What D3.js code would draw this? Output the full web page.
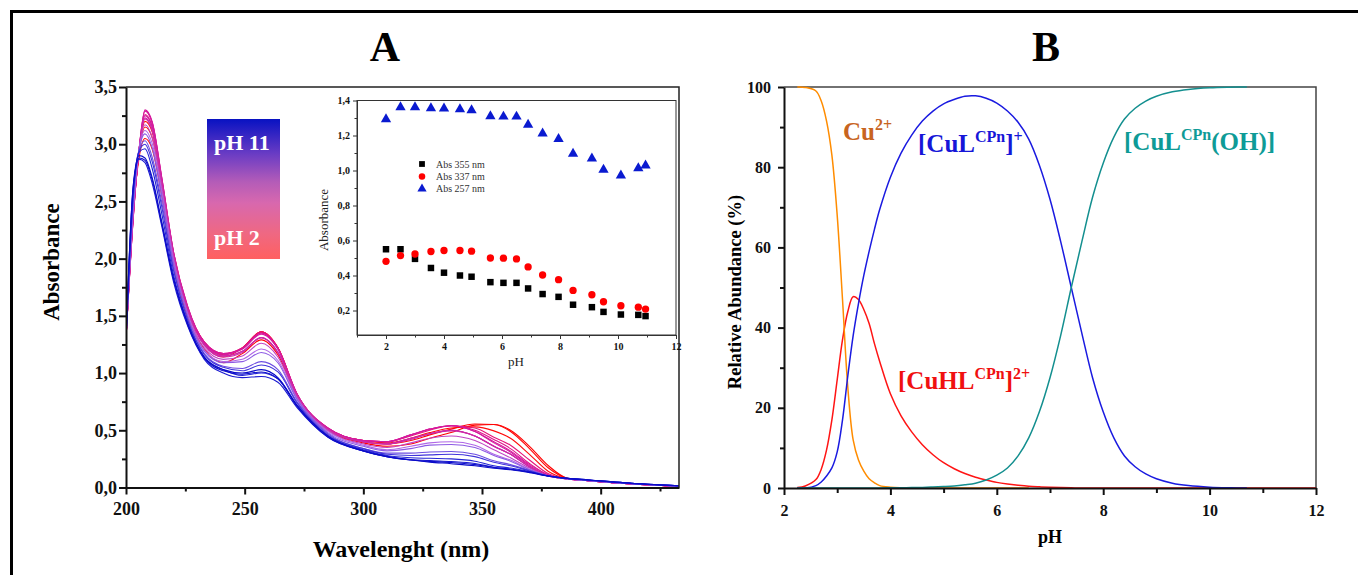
<!DOCTYPE html>
<html>
<head>
<meta charset="utf-8">
<script src="https://cdn.jsdelivr.net/npm/d3@7/dist/d3.min.js"></script>
<style>
  body { margin: 0; background: #fff; }
  text { font-family: "Liberation Serif", "DejaVu Serif", serif; }
</style>
</head>
<body>
<div id="chart"></div>
<script>
// ---- panel A : UV-vis titration spectra ----
var wavelengths = [200, 203, 205.5, 208, 211, 215, 220, 226, 233, 241, 249, 257, 264, 272, 285, 300, 310, 320, 328, 337, 347, 355, 362, 370, 378, 386, 395, 410, 433];
var titrationPH = [2.0, 2.5, 3.0, 3.55, 4.0, 4.55, 4.95, 5.6, 6.05, 6.5, 6.9, 7.4, 7.95, 8.45, 9.1, 9.5, 10.1, 10.7, 10.95];
// one row per pH value, one column per wavelength
var spectra = [
  [1.30, 2.40, 2.88, 3.05, 2.96, 2.56, 1.96, 1.49, 1.21, 1.09, 1.17, 1.29, 1.16, 0.79, 0.50, 0.39, 0.36, 0.38, 0.43, 0.48, 0.545, 0.55, 0.50, 0.36, 0.19, 0.08, 0.06, 0.035, 0.01],
  [1.30, 2.38, 2.92, 3.15, 3.06, 2.63, 2.01, 1.54, 1.25, 1.14, 1.22, 1.36, 1.22, 0.81, 0.51, 0.40, 0.38, 0.41, 0.46, 0.51, 0.555, 0.55, 0.49, 0.34, 0.17, 0.08, 0.06, 0.035, 0.01],
  [1.30, 2.36, 2.93, 3.20, 3.11, 2.66, 2.03, 1.56, 1.27, 1.16, 1.22, 1.36, 1.22, 0.81, 0.51, 0.41, 0.39, 0.43, 0.48, 0.52, 0.53, 0.495, 0.43, 0.29, 0.14, 0.078, 0.06, 0.035, 0.01],
  [1.30, 2.35, 2.94, 3.26, 3.16, 2.69, 2.05, 1.57, 1.27, 1.17, 1.22, 1.36, 1.22, 0.82, 0.52, 0.41, 0.40, 0.45, 0.50, 0.54, 0.52, 0.44, 0.37, 0.24, 0.12, 0.076, 0.06, 0.035, 0.01],
  [1.30, 2.34, 2.95, 3.29, 3.19, 2.71, 2.06, 1.58, 1.27, 1.17, 1.22, 1.35, 1.22, 0.82, 0.52, 0.41, 0.40, 0.46, 0.51, 0.54, 0.50, 0.42, 0.34, 0.21, 0.11, 0.075, 0.06, 0.035, 0.01],
  [1.30, 2.34, 2.95, 3.30, 3.20, 2.72, 2.06, 1.58, 1.27, 1.17, 1.21, 1.35, 1.21, 0.82, 0.52, 0.41, 0.40, 0.46, 0.51, 0.54, 0.49, 0.40, 0.32, 0.20, 0.11, 0.075, 0.06, 0.035, 0.01],
  [1.30, 2.35, 2.95, 3.29, 3.19, 2.71, 2.06, 1.57, 1.26, 1.16, 1.21, 1.34, 1.21, 0.82, 0.52, 0.41, 0.40, 0.46, 0.51, 0.54, 0.49, 0.39, 0.31, 0.19, 0.105, 0.075, 0.06, 0.035, 0.01],
  [1.30, 2.37, 2.95, 3.25, 3.15, 2.69, 2.04, 1.56, 1.25, 1.15, 1.19, 1.31, 1.18, 0.81, 0.51, 0.40, 0.38, 0.43, 0.47, 0.50, 0.45, 0.36, 0.29, 0.18, 0.10, 0.075, 0.06, 0.035, 0.01],
  [1.30, 2.37, 2.95, 3.23, 3.13, 2.68, 2.04, 1.56, 1.25, 1.15, 1.19, 1.31, 1.18, 0.81, 0.51, 0.40, 0.38, 0.43, 0.47, 0.50, 0.45, 0.36, 0.29, 0.18, 0.10, 0.075, 0.06, 0.035, 0.01],
  [1.30, 2.38, 2.95, 3.22, 3.12, 2.67, 2.03, 1.55, 1.24, 1.14, 1.18, 1.31, 1.18, 0.81, 0.51, 0.40, 0.38, 0.42, 0.47, 0.495, 0.45, 0.36, 0.29, 0.18, 0.10, 0.075, 0.06, 0.035, 0.01],
  [1.30, 2.40, 2.95, 3.17, 3.06, 2.63, 2.01, 1.53, 1.22, 1.12, 1.15, 1.26, 1.14, 0.79, 0.50, 0.38, 0.35, 0.39, 0.43, 0.45, 0.41, 0.33, 0.26, 0.17, 0.10, 0.075, 0.06, 0.035, 0.01],
  [1.30, 2.43, 2.95, 3.12, 3.01, 2.59, 1.98, 1.51, 1.20, 1.10, 1.12, 1.21, 1.11, 0.78, 0.49, 0.37, 0.33, 0.36, 0.39, 0.40, 0.37, 0.29, 0.24, 0.16, 0.10, 0.075, 0.06, 0.037, 0.012],
  [1.30, 2.45, 2.95, 3.09, 2.97, 2.56, 1.96, 1.50, 1.19, 1.09, 1.10, 1.18, 1.09, 0.77, 0.48, 0.36, 0.32, 0.34, 0.37, 0.376, 0.35, 0.28, 0.23, 0.155, 0.10, 0.076, 0.06, 0.037, 0.012],
  [1.30, 2.50, 2.95, 3.03, 2.89, 2.50, 1.92, 1.47, 1.17, 1.06, 1.04, 1.10, 1.03, 0.75, 0.47, 0.34, 0.30, 0.30, 0.31, 0.315, 0.29, 0.233, 0.20, 0.15, 0.10, 0.077, 0.062, 0.038, 0.013],
  [1.30, 2.53, 2.94, 3.00, 2.85, 2.46, 1.90, 1.46, 1.16, 1.05, 1.02, 1.07, 1.01, 0.74, 0.46, 0.34, 0.29, 0.28, 0.285, 0.29, 0.27, 0.22, 0.19, 0.145, 0.10, 0.078, 0.063, 0.038, 0.013],
  [1.30, 2.56, 2.93, 2.96, 2.79, 2.40, 1.86, 1.44, 1.14, 1.03, 0.98, 1.00, 0.95, 0.72, 0.45, 0.33, 0.28, 0.26, 0.255, 0.25, 0.23, 0.19, 0.17, 0.14, 0.10, 0.08, 0.065, 0.04, 0.014],
  [1.30, 2.60, 2.87, 2.84, 2.66, 2.29, 1.80, 1.41, 1.12, 1.00, 0.96, 0.97, 0.92, 0.70, 0.44, 0.32, 0.27, 0.245, 0.235, 0.227, 0.21, 0.177, 0.16, 0.135, 0.10, 0.08, 0.066, 0.041, 0.015],
  [1.30, 2.62, 2.88, 2.86, 2.69, 2.31, 1.82, 1.42, 1.13, 1.02, 0.99, 1.01, 0.95, 0.71, 0.44, 0.32, 0.27, 0.24, 0.228, 0.219, 0.20, 0.175, 0.16, 0.135, 0.10, 0.08, 0.066, 0.041, 0.015],
  [1.30, 2.63, 2.90, 2.88, 2.71, 2.33, 1.83, 1.43, 1.14, 1.03, 1.00, 1.03, 0.96, 0.72, 0.45, 0.32, 0.27, 0.24, 0.222, 0.208, 0.19, 0.168, 0.155, 0.13, 0.10, 0.08, 0.066, 0.041, 0.015]
];
var absTicks = [0, 0.5, 1, 1.5, 2, 2.5, 3, 3.5];
var wlTicks = [200, 250, 300, 350, 400];

// ---- inset : absorbance vs pH ----
var abs355 = [0.55, 0.55, 0.495, 0.443, 0.416, 0.40, 0.393, 0.362, 0.358, 0.358, 0.326, 0.294, 0.278, 0.233, 0.219, 0.192, 0.177, 0.175, 0.168];
var abs337 = [0.481, 0.514, 0.523, 0.537, 0.543, 0.543, 0.539, 0.50, 0.499, 0.495, 0.449, 0.403, 0.376, 0.315, 0.29, 0.25, 0.227, 0.219, 0.208];
var abs257 = [1.293, 1.362, 1.362, 1.356, 1.354, 1.35, 1.344, 1.31, 1.308, 1.308, 1.262, 1.212, 1.18, 1.096, 1.069, 1.004, 0.971, 1.013, 1.029];
var insetLegend = ["Abs 355 nm", "Abs 337 nm", "Abs 257 nm"];

// ---- panel B : species distribution ----
var speciesPH = [2.25, 2.4, 2.6, 2.7, 2.8, 2.9, 3.0, 3.1, 3.2, 3.3, 3.4, 3.5, 3.6, 3.7, 3.8, 4.0, 4.2, 4.4, 4.6, 4.8, 5.0, 5.2, 5.4, 5.6, 5.8, 6.0, 6.2, 6.4, 6.6, 6.8, 7.0, 7.2, 7.4, 7.6, 7.8, 8.0, 8.2, 8.4, 8.6, 8.8, 9.0, 9.3, 9.6, 10.0, 10.4, 10.7, 11.5, 12];
var cuFree = [100, 99.9, 99, 96.5, 91.5, 83, 68, 47, 25, 12, 7, 4.2, 2.3, 1.3, 0.6, 0.2, 0.05, 0, 0, 0, 0, 0, 0, 0, 0, 0, 0, 0, 0, null, null, null, null, null, null, null, null, null, null, null, null, null, null, null, null, null, null, null];
var cuHL = [0.1, 0.5, 2.1, 4.7, 9.5, 17, 27, 37, 44, 47.7, 47, 44.5, 41, 36, 31.5, 23.5, 18, 14, 10.8, 8.3, 6.3, 4.8, 3.6, 2.7, 2.0, 1.4, 1.0, 0.7, 0.45, 0.3, 0.18, 0.1, 0.05, 0, 0, 0, 0, 0, 0, 0, 0, 0, 0, 0, 0, 0, 0, 0];
var cuL = [0, 0, 0.6, 1.5, 3, 5, 9, 17, 28, 38, 46, 53, 59, 64.5, 69.5, 77.5, 83.5, 88, 91.5, 94, 95.8, 96.9, 97.7, 97.8, 97.2, 96, 94, 91.2, 87, 80.5, 72, 61.5, 50, 38.5, 27.5, 19, 12.5, 8, 5.3, 3.5, 2.3, 1.2, 0.6, 0.2, 0.05, 0, null, null];
var cuLOH = [0, 0, 0, 0, 0, 0, 0, 0, 0, 0, 0, 0, 0, 0, 0, 0.05, 0.08, 0.1, 0.15, 0.25, 0.35, 0.5, 0.8, 1.2, 2, 3.2, 5, 8, 12.5, 19, 27.5, 38, 50, 61.5, 72.5, 81, 87.5, 92, 94.7, 96.5, 97.7, 98.8, 99.4, 99.8, 99.95, 100, null, null];
var abundanceTicks = [0, 20, 40, 60, 80, 100];
var pHTicks = [2, 4, 6, 8, 10, 12];

var comma = function(d){ return d3.format(".1f")(d).replace(".", ","); };

var svg = d3.select('#chart')
    .append('svg')
    .attr('width', 1358)
    .attr('height', 575);

// outer frame
svg.append('rect')
    .attr('x', 11.5).attr('y', 11.5)
    .attr('width', 1400).attr('height', 700)
    .attr('fill', 'none').attr('stroke', '#000').attr('stroke-width', 3);

// draws a minor + major tick axis, labels in bold serif
function makeAxis(g, axisFn, scale, major, minor, fmt, len, minorLen, pad, fs) {
    g.append('g').call(axisFn(scale).tickValues(minor).tickSize(minorLen).tickSizeOuter(0).tickFormat(''))
        .call(function(s){ s.select('.domain').remove(); });
    var a = g.append('g').call(axisFn(scale).tickValues(major).tickSize(len).tickSizeOuter(0).tickPadding(pad).tickFormat(fmt));
    a.selectAll('text').attr('font-size', fs).attr('font-weight', 'bold')
        .attr('font-family', '"Liberation Serif", serif').attr('fill', '#111');
    return a;
}

// =============== PANEL A ===============
var xA = d3.scaleLinear().domain([200, 433]).range([126, 679]);
var yA = d3.scaleLinear().domain([0, 3.5]).range([487.5, 87]);

svg.append('defs').append('clipPath').attr('id', 'clipA')
    .append('rect').attr('x', 126).attr('y', 87).attr('width', 553).attr('height', 401);

var specColor = d3.scaleLinear()
    .domain([2, 3, 3.55, 4.5, 6.5, 7.4, 8.5, 9.5, 11])
    .range(['#ff0000', '#ff0a0a', '#e6147a', '#d6169c', '#cc2aa8', '#b067e6', '#6a4ce2', '#2424d6', '#0a0ac8']);

var specLine = d3.line()
    .x(function(d, i){ return xA(wavelengths[i]); })
    .y(function(d){ return yA(d); })
    .curve(d3.curveMonotoneX);

svg.append('g').attr('clip-path', 'url(#clipA)')
    .selectAll('path')
    .data(spectra)
    .enter()
    .append('path')
    .attr('d', specLine)
    .attr('fill', 'none')
    .attr('stroke', function(d, i){ return specColor(titrationPH[i]); })
    .attr('stroke-width', 1.1);

// frame top / right
svg.append('path')
    .attr('d', 'M' + xA.range()[0] + ',' + yA.range()[1] + 'H' + xA.range()[1] + 'V' + yA.range()[0])
    .attr('fill', 'none').attr('stroke', '#222').attr('stroke-width', 1.5);

var axA_y = svg.append('g').attr('transform', 'translate(126,0)').attr('color', '#111');
makeAxis(axA_y, d3.axisLeft, yA, absTicks, d3.range(0.25, 3.5, 0.5), comma, 7, 4, 2, 18);
axA_y.selectAll('.domain, line').attr('stroke-width', 2);

var axA_x = svg.append('g').attr('transform', 'translate(0,487.5)').attr('color', '#111');
makeAxis(axA_x, d3.axisBottom, xA, wlTicks, [225, 275, 325, 375, 425], d3.format('d'), 7, 4, 8, 18);
axA_x.selectAll('.domain, line').attr('stroke-width', 2);

svg.append('text').attr('x', 401).attr('y', 557).attr('text-anchor', 'middle')
    .attr('font-size', 24).attr('font-weight', 'bold').text('Wavelenght (nm)');
svg.append('text').attr('transform', 'translate(59,262) rotate(-90)').attr('text-anchor', 'middle')
    .attr('font-size', 23).attr('font-weight', 'bold').text('Absorbance');
svg.append('text').attr('x', 385).attr('y', 61).attr('text-anchor', 'middle')
    .attr('font-size', 42).attr('font-weight', 'bold').text('A');

// pH colour bar
var grad = svg.select('defs').append('linearGradient').attr('id', 'phGrad')
    .attr('x1', 0).attr('y1', 0).attr('x2', 0).attr('y2', 1);
[[0, '#0812c2'], [0.25, '#6a3cc4'], [0.45, '#b45cb8'], [0.6, '#d868ae'], [0.82, '#ef6882'], [1, '#ff6060']]
    .forEach(function(s){ grad.append('stop').attr('offset', s[0]).attr('stop-color', s[1]); });
svg.append('rect').attr('x', 207).attr('y', 119).attr('width', 73).attr('height', 140).attr('fill', 'url(#phGrad)');
svg.append('text').attr('x', 214).attr('y', 150).attr('fill', '#fff').attr('font-size', 22).attr('font-weight', 'bold').text('pH 11');
svg.append('text').attr('x', 214).attr('y', 245).attr('fill', '#fff').attr('font-size', 22).attr('font-weight', 'bold').text('pH 2');

// =============== INSET ===============
var xI = d3.scaleLinear().domain([1, 12]).range([357, 676]);
var yI = d3.scaleLinear().domain([0.06, 1.4]).range([335, 100.5]);

svg.append('rect').attr('x', 357).attr('y', 100.5).attr('width', 319).attr('height', 234.5)
    .attr('fill', '#fff').attr('stroke', '#333').attr('stroke-width', 1);

var axI_y = svg.append('g').attr('transform', 'translate(357,0)').attr('color', '#333');
makeAxis(axI_y, d3.axisLeft, yI, [0.2, 0.4, 0.6, 0.8, 1.0, 1.2, 1.4], [0.3, 0.5, 0.7, 0.9, 1.1, 1.3], comma, 4, 2.5, 3, 10);
var axI_x = svg.append('g').attr('transform', 'translate(0,335)').attr('color', '#333');
makeAxis(axI_x, d3.axisBottom, xI, [2, 4, 6, 8, 10, 12], [1, 3, 5, 7, 9, 11], d3.format('d'), 4, 2.5, 4, 10);

svg.append('text').attr('transform', 'translate(328,220) rotate(-90)').attr('text-anchor', 'middle')
    .attr('font-size', 13).attr('fill', '#222').text('Absorbance');
svg.append('text').attr('x', 516).attr('y', 366).attr('text-anchor', 'middle')
    .attr('font-size', 13).attr('fill', '#222').text('pH');

var insetSeries = [
    {vals: abs355, sym: d3.symbolSquare, size: 42, color: '#000'},
    {vals: abs337, sym: d3.symbolCircle, size: 42, color: '#ff0000'},
    {vals: abs257, sym: d3.symbolTriangle, size: 46, color: '#0a1ad0'}
];
insetSeries.forEach(function(s, k){
    svg.append('g').selectAll('path')
        .data(s.vals)
        .enter()
        .append('path')
        .attr('transform', function(d, i){ return 'translate(' + xI(titrationPH[i]) + ',' + yI(d) + ')'; })
        .attr('d', d3.symbol().type(s.sym).size(s.size))
        .attr('fill', s.color);
    svg.append('path')
        .attr('transform', 'translate(422,' + (164 + k * 12.4) + ')')
        .attr('d', d3.symbol().type(s.sym).size(s.size * 0.8))
        .attr('fill', s.color);
    svg.append('text').attr('x', 436).attr('y', 167.5 + k * 12.4)
        .attr('font-size', 10).attr('fill', '#333').text(insetLegend[k]);
});

// =============== PANEL B ===============
var xB = d3.scaleLinear().domain([2, 12]).range([784, 1316]);
var yB = d3.scaleLinear().domain([0, 100]).range([488, 87]);

svg.append('path')
    .attr('d', 'M' + xB.range()[0] + ',' + yB.range()[1] + 'H' + xB.range()[1] + 'V' + yB.range()[0])
    .attr('fill', 'none').attr('stroke', '#444').attr('stroke-width', 1.5);

var speciesLine = d3.line()
    .defined(function(d){ return d[1] !== null; })
    .x(function(d){ return xB(d[0]); })
    .y(function(d){ return yB(Math.max(0, d[1])); })
    .curve(d3.curveCatmullRom.alpha(0.5));

var species = [
    {vals: cuHL, color: '#ff1414'},
    {vals: cuFree, color: '#ff8c00'},
    {vals: cuL, color: '#1a1ae0'},
    {vals: cuLOH, color: '#138f8f'}
];
species.forEach(function(s){
    svg.append('path')
        .datum(speciesPH.map(function(p, i){ return [p, s.vals[i]]; }))
        .attr('d', speciesLine)
        .attr('fill', 'none')
        .attr('stroke', s.color)
        .attr('stroke-width', 1.5);
});

var axB_y = svg.append('g').attr('transform', 'translate(784,0)').attr('color', '#111');
makeAxis(axB_y, d3.axisLeft, yB, abundanceTicks, [10, 30, 50, 70, 90], d3.format('d'), 6, 4, 7, 16);
axB_y.selectAll('.domain, line').attr('stroke-width', 2);
var axB_x = svg.append('g').attr('transform', 'translate(0,488)').attr('color', '#111');
makeAxis(axB_x, d3.axisBottom, xB, pHTicks, [3, 5, 7, 9, 11], d3.format('d'), 7, 5, 10, 16);
axB_x.selectAll('.domain, line').attr('stroke-width', 2);

svg.append('text').attr('x', 1050).attr('y', 543).attr('text-anchor', 'middle')
    .attr('font-size', 18).attr('font-weight', 'bold').text('pH');
svg.append('text').attr('transform', 'translate(741,292) rotate(-90)').attr('text-anchor', 'middle')
    .attr('font-size', 18.5).attr('font-weight', 'bold').text('Relative Abundance (%)');
svg.append('text').attr('x', 1046).attr('y', 61).attr('text-anchor', 'middle')
    .attr('font-size', 42).attr('font-weight', 'bold').text('B');

// species labels with superscripts
function speciesLabel(x, y, color, parts) {
    var t = svg.append('text').attr('x', x).attr('y', y).attr('fill', color)
        .attr('font-size', 25).attr('font-weight', 'bold');
    var up = false;
    parts.forEach(function(p){
        var sup = p[1];
        var ts = t.append('tspan').text(p[0]);
        if (sup && !up) { ts.attr('dy', -10).attr('font-size', 16); up = true; }
        else if (sup) { ts.attr('font-size', 16); }
        else if (up) { ts.attr('dy', 10); up = false; }
    });
}
speciesLabel(843, 140, '#c8651f', [['Cu', 0], ['2+', 1]]);
speciesLabel(918, 152, '#1616d8', [['[CuL', 0], ['CPn', 1], [']', 0], ['+', 1]]);
speciesLabel(1124, 150, '#0e9b97', [['[CuL', 0], ['CPn', 1], ['(OH)]', 0]]);
speciesLabel(898, 389, '#f01010', [['[CuHL', 0], ['CPn', 1], [']', 0], ['2+', 1]]);
</script>
</body>
</html>
